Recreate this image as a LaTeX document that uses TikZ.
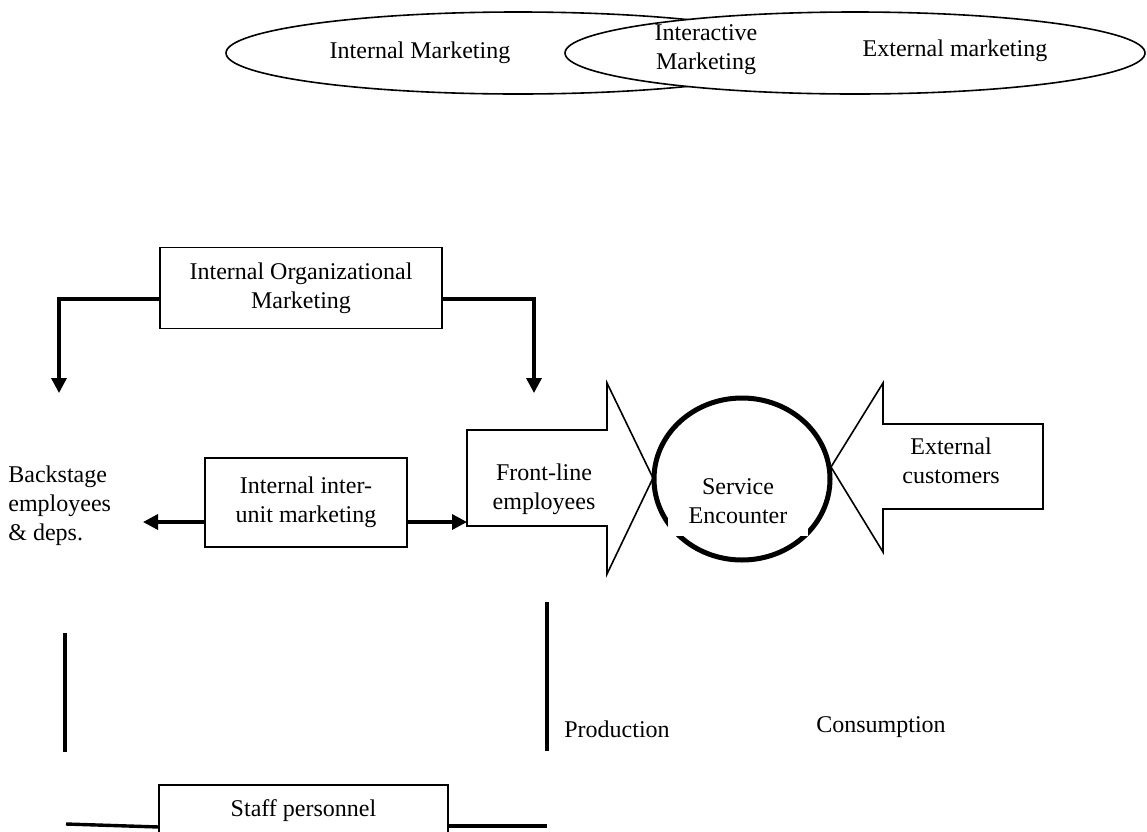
\documentclass[tikz,border=0pt]{standalone}
\usepackage{fontspec}
\setmainfont{Liberation Serif}
\usetikzlibrary{arrows.meta}
\usetikzlibrary{shapes.geometric}
\tikzset{>={Triangle[length=7.5pt,width=7.5pt]}}

\begin{document}
\begin{tikzpicture}[x=0.5pt, y=-0.5pt, font=\fontsize{12}{14.5}\selectfont,
        lbl/.style={align=center, inner sep=0pt},
        box/.style={draw, align=center, line width=0.8pt, inner sep=0pt},
        thickline/.style={line width=1.7pt}]
    \useasboundingbox (0,0) rectangle (1147,831);
    \clip (0,0) rectangle (1147,831);
    % marketing ellipses
    \draw[line width=0.8pt] (518,53) ellipse [x radius=292, y radius=41];
    \draw[line width=0.8pt, fill=white] (855,53) ellipse [x radius=290, y radius=41];
    \node[lbl] (intmkt) at (420,53) {Internal Marketing};
    \node[lbl] (intermkt) at (706,50) {Interactive\\Marketing};
    \node[lbl] (extmkt) at (955,51) {External marketing};
    % organizational marketing
    \node[box, minimum width=141pt, minimum height=40.5pt] (orgmkt) at (301,288) {Internal Organizational\\Marketing};
    \coordinate (backtip) at (59,393);
    \coordinate (fronttip) at (534,393);
    \draw[thickline, ->] ([yshift=-5.5pt]orgmkt.west) -| (backtip);
    \draw[thickline, ->] ([yshift=-5.5pt]orgmkt.east) -| (fronttip);
    % backstage and inter-unit
    \node[lbl, align=left, anchor=west] (backstage) at (8,506) {Backstage\\employees\\\& deps.};
    \node[box, minimum width=101pt, minimum height=44.5pt] (unitmkt) at (306,502.5) {Internal inter-\\unit marketing};
    \coordinate (unittip) at (143,522);
    \draw[line width=0.8pt] (467,430) -- (607,430) -- (607,383) -- (653,478) -- (607,574) -- (607,526) -- (467,526) -- cycle;
    \coordinate (frontbody) at (467,522);
    \draw[thickline, ->] ([yshift=-9.75pt]unitmkt.west) -- (unittip);
    \draw[thickline, ->] ([yshift=-9.75pt]unitmkt.east) -- (frontbody);
    \node[lbl] (frontline) at (544,489) {Front-line\\employees};
    % external customers
    \draw[line width=0.8pt] (1043,424) -- (883,424) -- (883,383) -- (831,467) -- (883,552) -- (883,509) -- (1043,509) -- cycle;
    \node[lbl] (extcust) at (951,461) {External\\customers};
    % service encounter
    \node[draw, ellipse, line width=2.5pt, minimum width=88pt, minimum height=81pt] (encounter) at (742,479) {};
    \fill[white] (668,440) rectangle (808,536);
    \node[lbl] (enctext) at (738,501) {Service\\Encounter};
    % production / consumption
    \draw[line width=2pt] (65,633) -- (65,752);
    \draw[line width=2pt] (547,602) -- (547,751);
    \node[lbl] (prod) at (617,729) {Production};
    \node[lbl] (cons) at (881,727) {Consumption};
    % staff
    \node[box, minimum width=144.5pt, minimum height=26pt, anchor=north] (staff) at (303.5,784) {Staff personnel};
    \draw[thickline] (66,824) -- (159,827);
    \draw[thickline] (448,826) -- (547,826);
\end{tikzpicture}
\end{document}
